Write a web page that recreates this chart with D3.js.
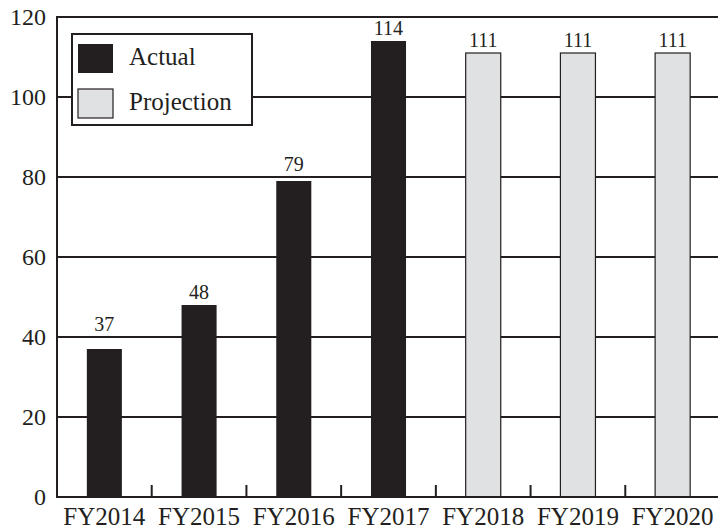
<!DOCTYPE html>
<html><head><meta charset="utf-8">
<script src="https://cdn.jsdelivr.net/npm/d3@7"></script>
<style>body{margin:0;background:#fff}svg{display:block}text{font-family:"Liberation Serif","DejaVu Serif",serif;fill:#231f20}</style>
</head><body>
<svg id="c" width="718" height="529"></svg>
<script>
const categories = ["FY2014","FY2015","FY2016","FY2017","FY2018","FY2019","FY2020"];
const values = [37,48,79,114,111,111,111];
const seriesType = ["Actual","Actual","Actual","Actual","Projection","Projection","Projection"];
const yTicks = [0,20,40,60,80,100,120];
const legendItems = ["Actual","Projection"];

const ink = "#231f20";
const colors = {Actual: ink, Projection: "#e0e1e3"};
const svg = d3.select("#c");
const x = d3.scaleBand().domain(categories).range([57, 720]).paddingInner(0.63).paddingOuter(0.315);
const y = d3.scaleLinear().domain([0,120]).range([497, 17]);

// gridlines
svg.append("g").selectAll("line").data(yTicks.filter(d=>d>0)).join("line")
  .attr("x1",57).attr("x2",718).attr("y1",d=>y(d)).attr("y2",d=>y(d))
  .attr("stroke",ink).attr("stroke-width",2);

// y labels
svg.append("g").selectAll("text").data(yTicks).join("text")
  .attr("x",46).attr("y",d=>y(d)).attr("dy","0.35em").attr("text-anchor","end")
  .attr("font-size",24).text(d=>d);

// bars
const data = categories.map((c,i)=>({c, v: values[i], s: seriesType[i]}));
svg.append("g").selectAll("rect").data(data).join("rect")
  .attr("x",d=>x(d.c)).attr("width",x.bandwidth())
  .attr("y",d=>y(d.v)).attr("height",d=>y(0)-y(d.v))
  .attr("fill",d=>colors[d.s])
  .attr("stroke",d=>d.s==="Projection"?ink:"none").attr("stroke-width",1.2);

// value labels (nudged above a gridline if they would collide with it)
function labelY(v){
  let b = y(v) - 6;
  yTicks.forEach(t=>{ const gy = y(t); if (gy >= b-14 && gy <= b+4) b = gy - 6; });
  return b;
}
svg.append("g").selectAll("text").data(data).join("text")
  .attr("x",d=>x(d.c)+x.bandwidth()/2).attr("y",d=>labelY(d.v))
  .attr("text-anchor","middle").attr("font-size",20).text(d=>d.v);

// axes
svg.append("line").attr("x1",57).attr("x2",57).attr("y1",y(120)-1).attr("y2",y(0)+1).attr("stroke",ink).attr("stroke-width",2);
svg.append("line").attr("x1",56).attr("x2",718).attr("y1",y(0)).attr("y2",y(0)).attr("stroke",ink).attr("stroke-width",2);
// tick marks between categories
svg.append("g").selectAll("line").data(categories.slice(0,-1)).join("line")
  .attr("x1",d=>x(d)+x.bandwidth()/2+x.step()/2).attr("x2",d=>x(d)+x.bandwidth()/2+x.step()/2)
  .attr("y1",y(0)).attr("y2",y(0)-12).attr("stroke",ink).attr("stroke-width",2);

// x labels
svg.append("g").selectAll("text").data(categories).join("text")
  .attr("x",d=>x(d)+x.bandwidth()/2).attr("y",525)
  .attr("text-anchor","middle").attr("font-size",25).text(d=>d);

// legend
const lg = svg.append("g");
lg.append("rect").attr("x",72).attr("y",34).attr("width",180).attr("height",91)
  .attr("fill","#fff").attr("stroke",ink).attr("stroke-width",2);
legendItems.forEach((k,i)=>{
  lg.append("rect").attr("x",78).attr("y",44+i*45).attr("width",35).attr("height",29)
    .attr("fill",colors[k]).attr("stroke",k==="Projection"?ink:"none").attr("stroke-width",1.2);
  lg.append("text").attr("x",129).attr("y",65+i*45).attr("font-size",25).text(k);
});
</script>
</body></html>
